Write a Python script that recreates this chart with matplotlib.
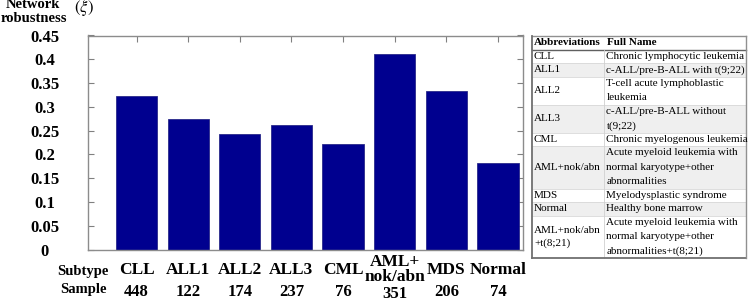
import matplotlib
matplotlib.use("Agg")
import matplotlib.pyplot as plt
from matplotlib.patches import Rectangle
from matplotlib.lines import Line2D
import matplotlib.transforms as mtransforms

# ---------------- data ----------------
subtypes = ["CLL", "ALL1", "ALL2", "ALL3", "CML", "AML+\nnok/abn", "MDS", "Normal"]
robustness = [0.322, 0.275, 0.243, 0.262, 0.222, 0.411, 0.333, 0.182]
samples = [448, 122, 174, 237, 76, 351, 206, 74]
ytick_vals = [0, 0.05, 0.1, 0.15, 0.2, 0.25, 0.3, 0.35, 0.4, 0.45]
ytick_labels = ["0", "0.05", "0.1", "0.15", "0.2", "0.25", "0.3", "0.35", "0.4", "0.45"]

table_abbr = ["CLL", "ALL1", "ALL2", "ALL3", "CML", "AML+nok/abn", "MDS", "Normal",
              "AML+nok/abn\n+t(8;21)"]
table_full = [
    ["Chronic lymphocytic leukemia"],
    ["c-ALL/pre-B-ALL with t(9;22)"],
    ["T-cell acute lymphoblastic", "leukemia"],
    ["c-ALL/pre-B-ALL without", "t(9;22)"],
    ["Chronic myelogenous leukemia"],
    ["Acute myeloid leukemia with", "normal karyotype+other", "abnormalities"],
    ["Myelodysplastic syndrome"],
    ["Healthy bone marrow"],
    ["Acute myeloid leukemia with", "normal karyotype+other", "abnormalities+t(8;21)"],
]

# ---------------- figure ----------------
W, H = 750, 303
fig = plt.figure(figsize=(W / 100, H / 100), dpi=100)
plt.rcParams['mathtext.fontset'] = 'stix'
serif = "Liberation Serif"

def fx(px):
    return px / W

def fy(py):
    return 1 - py / H

ax_l, ax_r, ax_t, ax_b = 88, 522.7, 35.5, 249.5
ax = fig.add_axes([fx(ax_l), fy(ax_b), fx(ax_r - ax_l), (ax_b - ax_t) / H])

x = list(range(1, len(subtypes) + 1))
ax.bar(x, robustness, width=0.8, color="#00008f", edgecolor="#2a2a8a", linewidth=0.6, zorder=2)
ax.set_xlim(0.06, 8.48)
ax.set_ylim(0, 0.45)
ax.set_xticks(x)
ax.set_xticklabels([])
ax.set_yticks(ytick_vals)
ax.set_yticklabels(ytick_labels, fontfamily=serif, fontweight="bold", fontsize=12, ha="center")
ax.tick_params(axis="both", direction="in", length=4, width=0.8, color="#808080",
               top=True, right=True, bottom=True, left=True)
ax.tick_params(axis="y", pad=31)
for s in ax.spines.values():
    s.set_color("#8c8c8c")
    s.set_linewidth(1.0)

# category and sample labels below axis
trans = mtransforms.blended_transform_factory(ax.transData, fig.transFigure)
for xi, name, n in zip(x, subtypes, samples):
    multi = "\n" in name
    ax.text(xi, fy(269.5), name, transform=trans, ha="center", va="center",
            fontfamily=serif, fontweight="bold", fontsize=12.5, linespacing=0.95,
            clip_on=False)
    ax.text(xi, fy(294 if multi else 292), str(n), transform=trans, ha="center", va="center",
            fontfamily=serif, fontweight="bold", fontsize=12, clip_on=False)

fig.text(fx(83), fy(271.5), "Subtype", ha="center", va="center",
         fontfamily=serif, fontweight="bold", fontsize=10.5)
fig.text(fx(83.5), fy(289.5), "Sample", ha="center", va="center",
         fontfamily=serif, fontweight="bold", fontsize=10.5)

# y axis title
fig.text(fx(33), fy(5), "Network", ha="center", va="center",
         fontfamily=serif, fontweight="bold", fontsize=10.5)
fig.text(fx(34), fy(18.5), "robustness", ha="center", va="center",
         fontfamily=serif, fontweight="bold", fontsize=10.5)
fig.text(fx(84), fy(8.5), r"$(\xi)$", ha="center", va="center", fontsize=12)

# ---------------- table ----------------
tl, tm, tr, tt, tb = 532, 604, 746, 36, 258
line_counts = [1] + [max(len(f), a.count("\n") + 1) for a, f in zip(table_abbr, table_full)]
L = 14.5
pad = (tb - tt - L * sum(line_counts)) / len(line_counts)
heights = [n * L + pad for n in line_counts]

def add_rect(x0, y0, x1, y1, fc):
    fig.patches.append(Rectangle((fx(x0), fy(y1)), fx(x1 - x0), (y1 - y0) / H,
                                 transform=fig.transFigure, facecolor=fc, edgecolor="none",
                                 zorder=0))

def add_line(x0, y0, x1, y1, color, lw):
    fig.lines.append(Line2D([fx(x0), fx(x1)], [fy(y0), fy(y1)], transform=fig.transFigure,
                            color=color, linewidth=lw, zorder=3))

y = tt
fs = 8
# header
h0 = heights[0]
fig.text(fx(tl + 2), fy(y + h0 / 2), "Abbreviations", ha="left", va="center",
         fontfamily=serif, fontweight="bold", fontsize=fs)
fig.text(fx(tm + 3), fy(y + h0 / 2), "Full Name", ha="left", va="center",
         fontfamily=serif, fontweight="bold", fontsize=fs)
y += h0
add_line(tl, y, tr, y, "#606060", 1.0)
for i, (abbr, full) in enumerate(zip(table_abbr, table_full)):
    h = heights[i + 1]
    if i % 2 == 1:
        add_rect(tl, y, tr, y + h, "#efefef")
    fig.text(fx(tl + 2), fy(y + h / 2), abbr, ha="left", va="center",
             fontfamily=serif, fontsize=fs, linespacing=1.5)
    n = len(full)
    for j, line in enumerate(full):
        cy = y + h / 2 + (j - (n - 1) / 2) * L
        fig.text(fx(tm + 2.5), fy(cy), line, ha="left", va="center",
                 fontfamily=serif, fontsize=fs)
    y += h
    if i < len(table_abbr) - 1:
        add_line(tl, y, tr, y, "#d8d8d8", 0.6)

add_line(tm, tt + h0, tm, tb, "#d0d0d0", 0.6)
# outer border
add_line(tl, tt, tr, tt, "#909090", 1.0)
add_line(tl, tb, tr, tb, "#707070", 1.3)
add_line(tl, tt, tl, tb, "#707070", 1.3)
add_line(tr, tt, tr, tb, "#909090", 1.0)

fig.savefig("out.png", dpi=100)
